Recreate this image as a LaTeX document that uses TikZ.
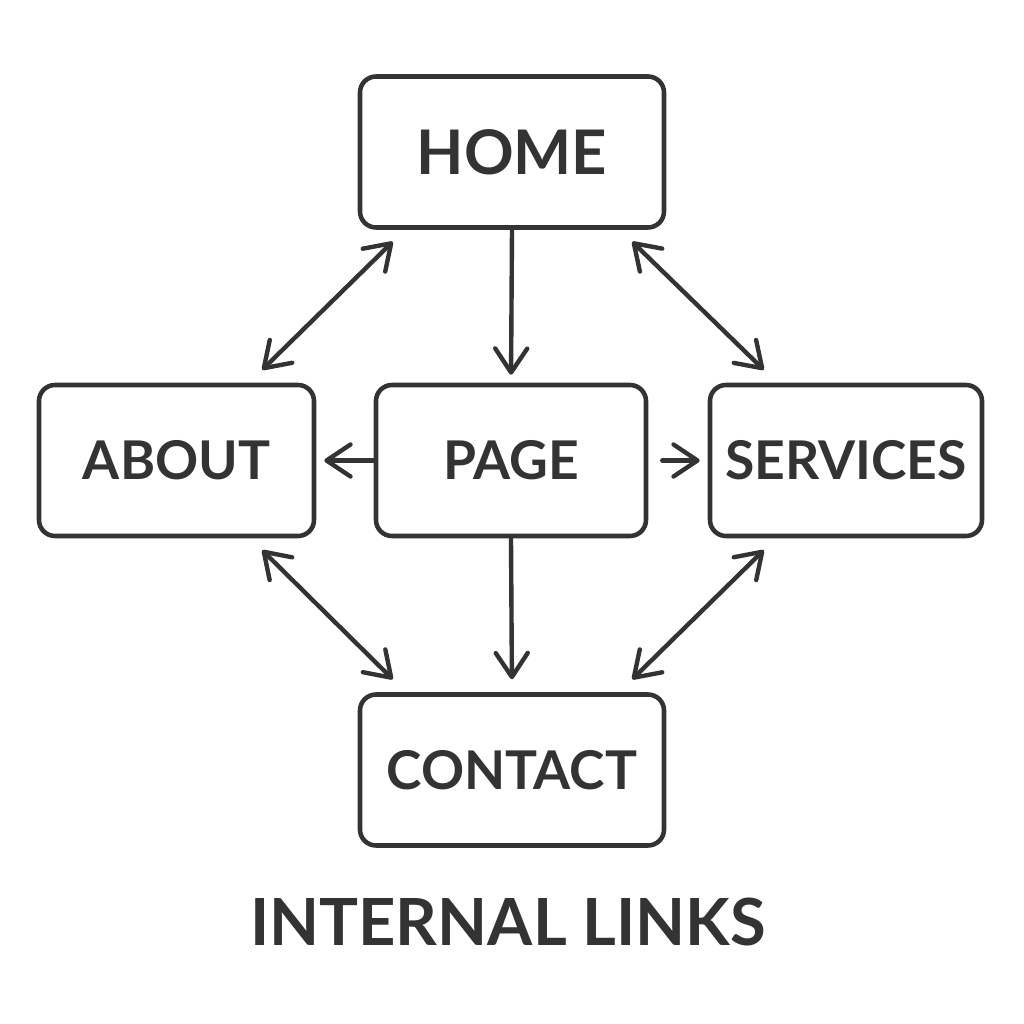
\documentclass[tikz,border=0pt]{standalone}
\usepackage{fontspec}
\setmainfont{Lato}
\usetikzlibrary{arrows.meta}
\definecolor{ink}{HTML}{333333}
\tikzset{
	pagebox/.style={draw=ink, line width=1.3pt, rounded corners=0.16cm, minimum height=1.51cm, inner sep=0pt, text=ink, font=\fontsize{15.2}{18}\selectfont\bfseries},
	tip/.tip={Straight Barb[length=0.24cm, width=0.32cm, line cap=round, line join=round]},
	link/.style={draw=ink, line width=1.25pt, line cap=round, -tip},
	twoway/.style={link, tip-tip}
}
\begin{document}
\begin{tikzpicture}
	\useasboundingbox (0,0) rectangle (10.24,10.24);
	\node[pagebox, minimum width=3.04cm, font=\fontsize{17.5}{20}\selectfont\bfseries] (home) at (5.12,8.72) {HOME};
	\node[pagebox, minimum width=2.75cm] (about) at (1.765,5.635) {ABOUT};
	\node[pagebox, minimum width=2.70cm] (page) at (5.11,5.635) {PAGE};
	\node[pagebox, minimum width=2.72cm] (services) at (8.46,5.635) {SERVICES};
	\node[pagebox, minimum width=3.04cm] (contact) at (5.12,2.54) {CONTACT};
	\node[text=ink, font=\fontsize{18.5}{22}\selectfont\bfseries] (title) at (5.08,1.02) {INTERNAL LINKS};

	\draw[link, shorten >=0.08cm] (home.south) -- (page.north);
	\draw[link, shorten >=0.13cm] (page.south) -- (contact.north);
	\draw[link, shorten >=0.08cm] (page.west) -- (about.east);
	\draw[link, shorten <=0.14cm, shorten >=0.08cm] (page.east) -- (services.west);
	\draw[twoway] ([xshift=0.35cm, yshift=-0.12cm]home.south west) -- ([xshift=-0.54cm, yshift=0.13cm]about.north east);
	\draw[twoway] ([xshift=-0.34cm, yshift=-0.12cm]home.south east) -- ([xshift=0.56cm, yshift=0.13cm]services.north west);
	\draw[twoway] ([xshift=-0.54cm, yshift=-0.12cm]about.south east) -- ([xshift=0.35cm, yshift=0.13cm]contact.north west);
	\draw[twoway] ([xshift=0.56cm, yshift=-0.12cm]services.south west) -- ([xshift=-0.34cm, yshift=0.13cm]contact.north east);
\end{tikzpicture}
\end{document}
